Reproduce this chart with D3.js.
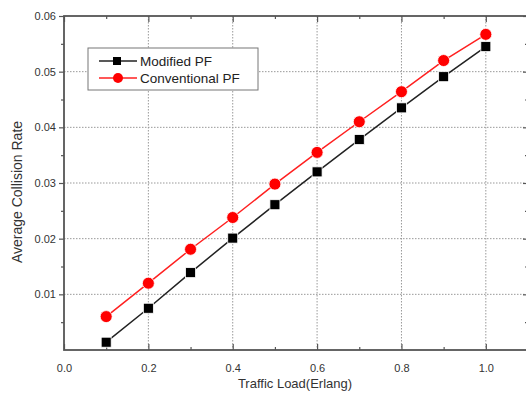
<!DOCTYPE html>
<html>
<head>
<meta charset="utf-8">
<script src="https://cdn.jsdelivr.net/npm/d3@7"></script>
<style>
  body { margin: 0; background: #fff; }
  svg { font-family: "Liberation Sans", Arial, sans-serif; }
</style>
</head>
<body>
<div id="chart"></div>
<script>
// data
const loads = [0.1, 0.2, 0.3, 0.4, 0.5, 0.6, 0.7, 0.8, 0.9, 1.0];
const modifiedPF = [0.0014, 0.0075, 0.0139, 0.0201, 0.0261, 0.0320, 0.0378, 0.0435, 0.0491, 0.0545];
const conventionalPF = [0.0060, 0.0120, 0.0181, 0.0238, 0.0298, 0.0355, 0.0410, 0.0464, 0.0520, 0.0567];
const xTicks = [0.0, 0.2, 0.4, 0.6, 0.8, 1.0];
const yTicks = [0.01, 0.02, 0.03, 0.04, 0.05, 0.06];
const seriesNames = ["Modified PF", "Conventional PF"];

const width = 526, height = 394;
const plotLeft = 64, plotTop = 16, plotRight = 528, plotBottom = 350;
const axisColor = "#555";

const svg = d3.select("#chart").append("svg")
  .attr("width", width)
  .attr("height", height);

const x = d3.scaleLinear().domain([0, 1.1]).range([plotLeft, plotRight]);
const y = d3.scaleLinear().domain([0, 0.06]).range([plotBottom, plotTop]);

// grid
const grid = svg.append("g");
grid.selectAll("line.gx")
  .data(xTicks.filter(d => d > 0))
  .enter().append("line")
  .attr("x1", d => x(d)).attr("x2", d => x(d))
  .attr("y1", plotTop).attr("y2", plotBottom)
  .attr("stroke", "#999").attr("stroke-width", 1)
  .attr("stroke-dasharray", "1.5,1.5");
grid.selectAll("line.gy")
  .data(yTicks.filter(d => d < 0.06))
  .enter().append("line")
  .attr("x1", plotLeft).attr("x2", plotRight)
  .attr("y1", d => y(d)).attr("y2", d => y(d))
  .attr("stroke", "#999").attr("stroke-width", 1)
  .attr("stroke-dasharray", "1.5,1.5");

// axes
const xMinor = d3.range(0.1, 1.1, 0.2);
const yMinor = d3.range(0.005, 0.06, 0.01);

function styleAxis(g) {
  g.select(".domain").remove();
  g.selectAll(".tick line").attr("stroke", axisColor).attr("stroke-width", 1.2);
  g.selectAll(".tick text").attr("fill", "#333").attr("font-size", 11);
}

svg.append("g")
  .attr("transform", `translate(0,${plotBottom})`)
  .call(d3.axisBottom(x).tickValues(xTicks).tickFormat(d3.format(".1f")).tickSizeInner(-6).tickSizeOuter(0).tickPadding(14))
  .call(styleAxis);
svg.append("g")
  .attr("transform", `translate(0,${plotBottom})`)
  .call(d3.axisBottom(x).tickValues(xMinor).tickFormat("").tickSizeInner(-3).tickSizeOuter(0))
  .call(styleAxis);

svg.append("g")
  .attr("transform", `translate(0,${plotTop})`)
  .call(d3.axisTop(x).tickValues(xTicks).tickFormat("").tickSizeInner(-6).tickSizeOuter(0))
  .call(styleAxis);
svg.append("g")
  .attr("transform", `translate(0,${plotTop})`)
  .call(d3.axisTop(x).tickValues(xMinor).tickFormat("").tickSizeInner(-3).tickSizeOuter(0))
  .call(styleAxis);

svg.append("g")
  .attr("transform", `translate(${plotLeft},0)`)
  .call(d3.axisLeft(y).tickValues(yTicks).tickFormat(d3.format(".2f")).tickSizeInner(5).tickSizeOuter(0).tickPadding(3))
  .call(styleAxis);
svg.append("g")
  .attr("transform", `translate(${plotLeft},0)`)
  .call(d3.axisLeft(y).tickValues(yMinor).tickFormat("").tickSizeInner(3).tickSizeOuter(0))
  .call(styleAxis);

svg.append("g")
  .attr("transform", `translate(${plotRight},0)`)
  .call(d3.axisRight(y).tickValues(yTicks).tickFormat("").tickSizeInner(-5).tickSizeOuter(0))
  .call(styleAxis);
svg.append("g")
  .attr("transform", `translate(${plotRight},0)`)
  .call(d3.axisRight(y).tickValues(yMinor).tickFormat("").tickSizeInner(-3).tickSizeOuter(0))
  .call(styleAxis);

// frame
svg.append("rect")
  .attr("x", plotLeft).attr("y", plotTop)
  .attr("width", plotRight - plotLeft).attr("height", plotBottom - plotTop)
  .attr("fill", "none").attr("stroke", axisColor).attr("stroke-width", 1.8);

// axis titles
svg.append("text")
  .attr("x", 295).attr("y", 388)
  .attr("text-anchor", "middle").attr("font-size", 13).attr("fill", "#333")
  .text("Traffic Load(Erlang)");
svg.append("text")
  .attr("transform", "translate(22,192) rotate(-90)")
  .attr("text-anchor", "middle").attr("font-size", 14).attr("fill", "#333")
  .text("Average Collision Rate");

// series
const line = d3.line().x((d, i) => x(loads[i])).y(d => y(d));

svg.append("path").datum(modifiedPF)
  .attr("d", line).attr("fill", "none")
  .attr("stroke", "#222").attr("stroke-width", 1.5);
svg.append("path").datum(conventionalPF)
  .attr("d", line).attr("fill", "none")
  .attr("stroke", "#ff2020").attr("stroke-width", 1.5);

svg.append("g").selectAll("rect")
  .data(modifiedPF).enter().append("rect")
  .attr("x", (d, i) => x(loads[i]) - 5)
  .attr("y", d => y(d) - 5)
  .attr("width", 10).attr("height", 10)
  .attr("fill", "#000").attr("stroke", "#fff").attr("stroke-width", 0.8);
svg.append("g").selectAll("circle")
  .data(conventionalPF).enter().append("circle")
  .attr("cx", (d, i) => x(loads[i]))
  .attr("cy", d => y(d))
  .attr("r", 6)
  .attr("fill", "#ff0000").attr("stroke", "#fff").attr("stroke-width", 0.8);

// legend
const lg = svg.append("g");
lg.append("rect")
  .attr("x", 88).attr("y", 48).attr("width", 170).attr("height", 42)
  .attr("fill", "#fff").attr("stroke", "#777").attr("stroke-width", 1);
const legendColors = ["#222", "#ff2020"];
seriesNames.forEach((name, i) => {
  const cy = 61 + i * 17;
  lg.append("line")
    .attr("x1", 99).attr("x2", 137).attr("y1", cy).attr("y2", cy)
    .attr("stroke", legendColors[i]).attr("stroke-width", 1.5);
  if (i === 0) {
    lg.append("rect").attr("x", 113).attr("y", cy - 4).attr("width", 8).attr("height", 8).attr("fill", "#000");
  } else {
    lg.append("circle").attr("cx", 118).attr("cy", cy).attr("r", 5).attr("fill", "#ff0000");
  }
  lg.append("text")
    .attr("x", 140).attr("y", cy + 5)
    .attr("font-size", 13.5).attr("fill", "#222")
    .text(name);
});
</script>
</body>
</html>
